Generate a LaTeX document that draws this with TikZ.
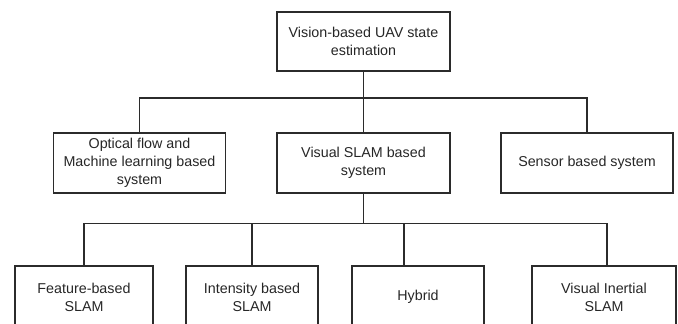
\documentclass[tikz,border=0pt]{standalone}
\usepackage{fontspec}
\setmainfont{Liberation Sans}
\usetikzlibrary{calc}
\definecolor{linec}{HTML}{2B2B2B}
\definecolor{textc}{HTML}{262626}
\begin{document}
\begin{tikzpicture}[x=1pt,y=-1pt,
  box/.style={draw=linec,line width=1.4pt,rectangle,inner sep=0pt,align=center,
    text=textc,font=\fontsize{14.3}{17.8}\selectfont},
  conn/.style={draw=linec,line width=1.4pt}]
\useasboundingbox (0,0) rectangle (678,324);
\clip (0,0) rectangle (678,324);
\node[box,minimum width=173pt,minimum height=59pt] (top) at (363.5,41.5) {Vision-based UAV state\\estimation};
\node[box,minimum width=172pt,minimum height=60pt] (L) at (139.5,163) {Optical flow and\\Machine learning based\\system};
\node[box,minimum width=173pt,minimum height=60pt] (C) at (363.5,163) {Visual SLAM based\\system};
\node[box,minimum width=172pt,minimum height=60pt] (R) at (587,163) {Sensor based system};
\node[box,minimum width=138pt,minimum height=62pt] (B1) at (84,297) {Feature-based\\SLAM};
\node[box,minimum width=132pt,minimum height=62pt] (B2) at (252,297) {Intensity based\\SLAM};
\node[box,minimum width=132pt,minimum height=62pt] (B3) at (418,297) {Hybrid};
\node[box,minimum width=144pt,minimum height=62pt] (B4) at (604,297) {Visual Inertial\\SLAM};
\coordinate (bus1) at (0,98);
\coordinate (bus2) at (0,223.5);
\draw[conn] (top.south) -- (top.south |- bus1) -- (C.north);
\draw[conn] (L.north) -- (L.north |- bus1) -- (R.north |- bus1) -- (R.north);
\draw[conn] (C.south) -- (C.south |- bus2);
\coordinate (b3n) at ($(B3.north)+(-14,0)$);
\coordinate (b4n) at ($(B4.north)+(3,0)$);
\draw[conn] (B1.north) -- (B1.north |- bus2) -- (b4n |- bus2) -- (b4n);
\draw[conn] (B2.north) -- (B2.north |- bus2);
\draw[conn] (b3n) -- (b3n |- bus2);
\end{tikzpicture}
\end{document}
